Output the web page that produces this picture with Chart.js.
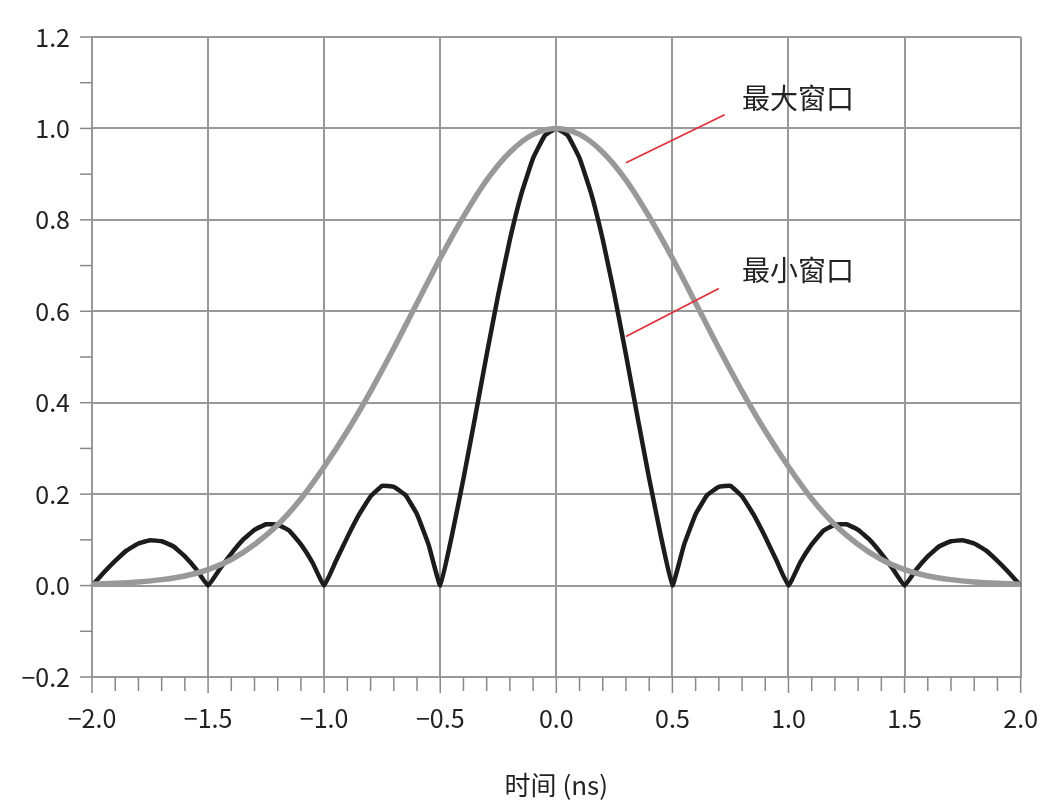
<!DOCTYPE html>
<html><head><meta charset="utf-8">
<script src="https://cdn.jsdelivr.net/npm/chart.js@4"></script>
<style>html,body{margin:0;padding:0;background:#fff}#c{display:block}</style>
</head><body><canvas id="c" width="1064" height="805"></canvas>
<script>
const minX = [0,0.05,0.1,0.15,0.2,0.25,0.3,0.35,0.4,0.45,0.5,0.55,0.6,0.65,0.7,0.75,0.8,0.85,0.9,0.95,1.0,1.05,1.1,1.15,1.2,1.25,1.3,1.35,1.4,1.45,1.5,1.55,1.6,1.65,1.7,1.75,1.8,1.85,1.9,1.95,2.0];
const minY = [1,0.984,0.935,0.858,0.757,0.637,0.505,0.368,0.234,0.109,0,0.089,0.156,0.198,0.216,0.218,0.195,0.155,0.106,0.053,0,0.05,0.09,0.12,0.133,0.134,0.122,0.1,0.07,0.036,0,0.035,0.064,0.086,0.097,0.099,0.092,0.077,0.054,0.028,0];
const maxX = [0,0.1,0.2,0.3,0.4,0.5,0.6,0.7,0.8,0.9,1.0,1.1,1.2,1.3,1.4,1.5,1.6,1.7,1.8,1.9,2.0];
const maxY = [1,0.987,0.948,0.887,0.807,0.716,0.618,0.519,0.425,0.338,0.26,0.19,0.133,0.09,0.057,0.035,0.021,0.013,0.008,0.005,0.003];
const xTicks = [-2.0,-1.5,-1.0,-0.5,0.0,0.5,1.0,1.5,2.0];
const yTicks = [-0.2,0.0,0.2,0.4,0.6,0.8,1.0,1.2];
const labels = [{text:'最大窗口', x:0.8, y:1.065, lx1:0.3, ly1:0.925, lx2:0.725, ly2:1.03},
                {text:'最小窗口', x:0.8, y:0.69, lx1:0.3, ly1:0.545, lx2:0.7, ly2:0.65}];
function mirror(xs, ys){const pts=[];for(let i=xs.length-1;i>0;i--)pts.push({x:-xs[i],y:ys[i]});for(let i=0;i<xs.length;i++)pts.push({x:xs[i],y:ys[i]});return pts;}
const fnt = '"Noto Sans CJK SC", "Noto Sans", sans-serif';
const deco = {id:'deco', afterDraw(c){
  const ctx=c.ctx, xs=c.scales.x, ys=c.scales.y, a=c.chartArea;
  ctx.save(); ctx.strokeStyle='#888'; ctx.lineWidth=1.5;
  for(let i=-20;i<=20;i++){const px=xs.getPixelForValue(i/10);ctx.beginPath();ctx.moveTo(px,a.bottom);ctx.lineTo(px,a.bottom+(i%5===0?16:14));ctx.stroke();}
  for(let i=-2;i<=12;i++){const py=ys.getPixelForValue(i/10);ctx.beginPath();ctx.moveTo(a.left-12,py);ctx.lineTo(a.left,py);ctx.stroke();}
  ctx.strokeStyle='#e0303a'; ctx.lineWidth=1.8; ctx.fillStyle='#222'; ctx.font='28px '+fnt; ctx.textBaseline='middle';
  for(const l of labels){ctx.beginPath();ctx.moveTo(xs.getPixelForValue(l.lx1),ys.getPixelForValue(l.ly1));ctx.lineTo(xs.getPixelForValue(l.lx2),ys.getPixelForValue(l.ly2));ctx.stroke();
    ctx.fillText(l.text,xs.getPixelForValue(l.x),ys.getPixelForValue(l.y));}
  ctx.restore();
}};
new Chart(document.getElementById('c'),{type:'scatter',
 data:{datasets:[
  {data:mirror(maxX,maxY),showLine:true,borderColor:'#999',borderWidth:5.5,pointRadius:0,tension:0.3},
  {data:mirror(minX,minY),showLine:true,borderColor:'#1c1c1c',borderWidth:4.5,pointRadius:0,tension:0.1}]},
 options:{responsive:false,animation:false,plugins:{legend:{display:false},tooltip:{enabled:false}},
  layout:{padding:{top:32,right:38,left:0,bottom:0}},
  scales:{
   x:{type:'linear',min:-2,max:2,afterBuildTicks(s){s.ticks=xTicks.map(v=>({value:v}));},afterFit(s){s.height=128;},
      grid:{color:'#999',lineWidth:2,drawTicks:false},border:{color:'#999',width:2},
      ticks:{padding:26,color:'#222',font:{size:25,family:fnt},callback:v=>(v<0?'−':'')+Math.abs(v).toFixed(1)},
      title:{display:true,text:'时间 (ns)',color:'#222',font:{size:26,family:fnt},padding:{top:6}}},
   y:{min:-0.2,max:1.2,afterBuildTicks(s){s.ticks=yTicks.map(v=>({value:v}));},afterFit(s){s.width=92;},
      grid:{color:'#999',lineWidth:2,drawTicks:false},border:{color:'#999',width:2},
      ticks:{padding:22,color:'#222',font:{size:25,family:fnt},callback:v=>(v<0?'−':'')+Math.abs(v).toFixed(1)}}
  }},plugins:[deco]});
</script></body></html>
